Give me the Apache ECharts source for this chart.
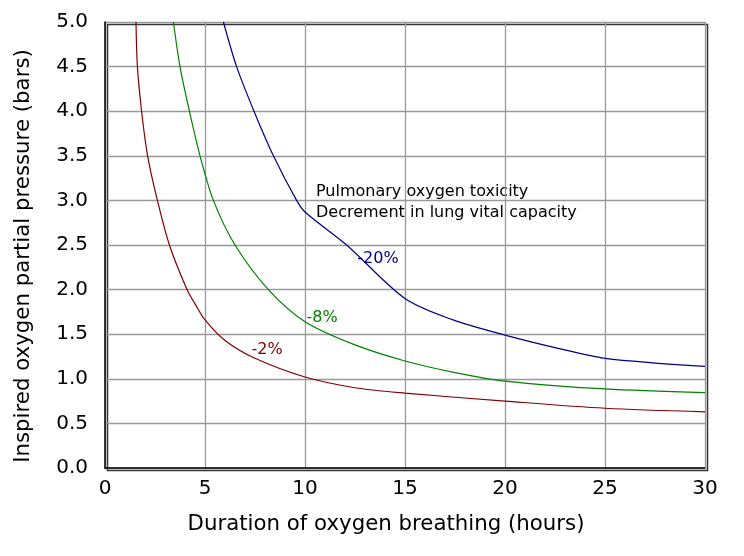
<!DOCTYPE html>
<html>
<head>
<meta charset="utf-8">
<script src="https://cdn.jsdelivr.net/npm/echarts@6/dist/echarts.min.js"></script>
<style>
html,body{margin:0;padding:0;background:#fff;}
#chart{width:744px;height:556px;}
</style>
</head>
<body>
<div id="chart"></div>
<script>
// duration (hours) / pressure (bars)
var redHours = [1.55, 1.62, 1.83, 2.13, 2.62, 3.22, 4.1, 4.5, 5, 6, 7.5, 10, 12.5, 15, 20, 25, 30];
var redBars  = [5.0, 4.5, 4.0, 3.5, 3.0, 2.5, 2.0, 1.84, 1.66, 1.43, 1.23, 1.02, 0.9, 0.84, 0.75, 0.67, 0.63];
var greenHours = [3.42, 3.75, 4.22, 4.75, 5.42, 6.5, 8.17, 10, 12.5, 15, 17.5, 20, 25, 30];
var greenBars  = [5.0, 4.5, 4.0, 3.5, 3.0, 2.5, 2.0, 1.64, 1.38, 1.2, 1.07, 0.975, 0.886, 0.845];
var blueHours = [5.92, 6.58, 7.45, 8.42, 9.58, 10, 12.08, 15, 17.4, 20, 22.5, 25, 30];
var blueBars  = [5.0, 4.5, 4.0, 3.5, 3.0, 2.87, 2.5, 1.9, 1.66, 1.49, 1.35, 1.23, 1.14];
var curveNames = ['-2%', '-8%', '-20%'];
var noteLines = ['Pulmonary oxygen toxicity', 'Decrement in lung vital capacity'];

var font = 'DejaVu Sans';
var myChart = echarts.init(document.getElementById('chart'));

function pairs(xs, ys){
    var out = [];
    for (var i = 0; i < xs.length; i++) out.push([xs[i], ys[i]]);
    return out;
}

function curve(name, xs, ys, color, labelAt){
    return {
        name: name,
        type: 'line',
        smooth: 0.3,
        showSymbol: false,
        lineStyle: {color: color, width: 1.2},
        data: pairs(xs, ys),
        markPoint: {
            symbol: 'circle',
            symbolSize: 1,
            silent: true,
            itemStyle: {color: 'rgba(0,0,0,0)'},
            label: {show: true, position: 'inside', formatter: name, color: color, fontFamily: font, fontSize: 16},
            data: [{coord: labelAt}]
        }
    };
}

var option = {
    animation: false,
    grid: {left: 105, right: 39, top: 22, bottom: 88},
    xAxis: {
        type: 'value', min: 0, max: 30, interval: 5,
        name: 'Duration of oxygen breathing (hours)',
        nameLocation: 'middle', nameGap: 46,
        nameTextStyle: {fontFamily: font, fontSize: 21.3, color: '#000', padding: [0, 38, 0, 0]},
        axisLine: {show: true, lineStyle: {color: '#000', width: 1.5}},
        axisTick: {show: false},
        axisLabel: {fontFamily: font, fontSize: 20, color: '#000', margin: 11},
        splitLine: {lineStyle: {color: '#999', width: 1.3}}
    },
    yAxis: {
        type: 'value', min: 0, max: 5, interval: 0.5,
        name: 'Inspired oxygen partial pressure (bars)',
        nameLocation: 'middle', nameGap: 71,
        nameTextStyle: {fontFamily: font, fontSize: 21.3, color: '#000', padding: [0, 22, 0, 0]},
        axisLine: {show: true, lineStyle: {color: '#000', width: 1.5}},
        axisTick: {show: false},
        axisLabel: {fontFamily: font, fontSize: 20, color: '#000', margin: 17,
            formatter: function(v){ return v.toFixed(1); }},
        splitLine: {lineStyle: {color: '#999', width: 1.3}}
    },
    series: [
        curve(curveNames[0], redHours, redBars, '#800000', [8.1, 1.32]),
        curve(curveNames[1], greenHours, greenBars, '#008000', [10.85, 1.68]),
        curve(curveNames[2], blueHours, blueBars, '#000080', [13.65, 2.35])
    ],
    graphic: [
        {type: 'rect', left: 105, top: 22, shape: {width: 600, height: 446},
         style: {fill: 'none', stroke: '#333', lineWidth: 1.5}, silent: true},
        {type: 'text', left: 316, top: 181,
         style: {text: noteLines.join('\n'), fontFamily: font, fontSize: 16, lineHeight: 21, fill: '#000'}}
    ]
};
myChart.setOption(option);
</script>
</body>
</html>
